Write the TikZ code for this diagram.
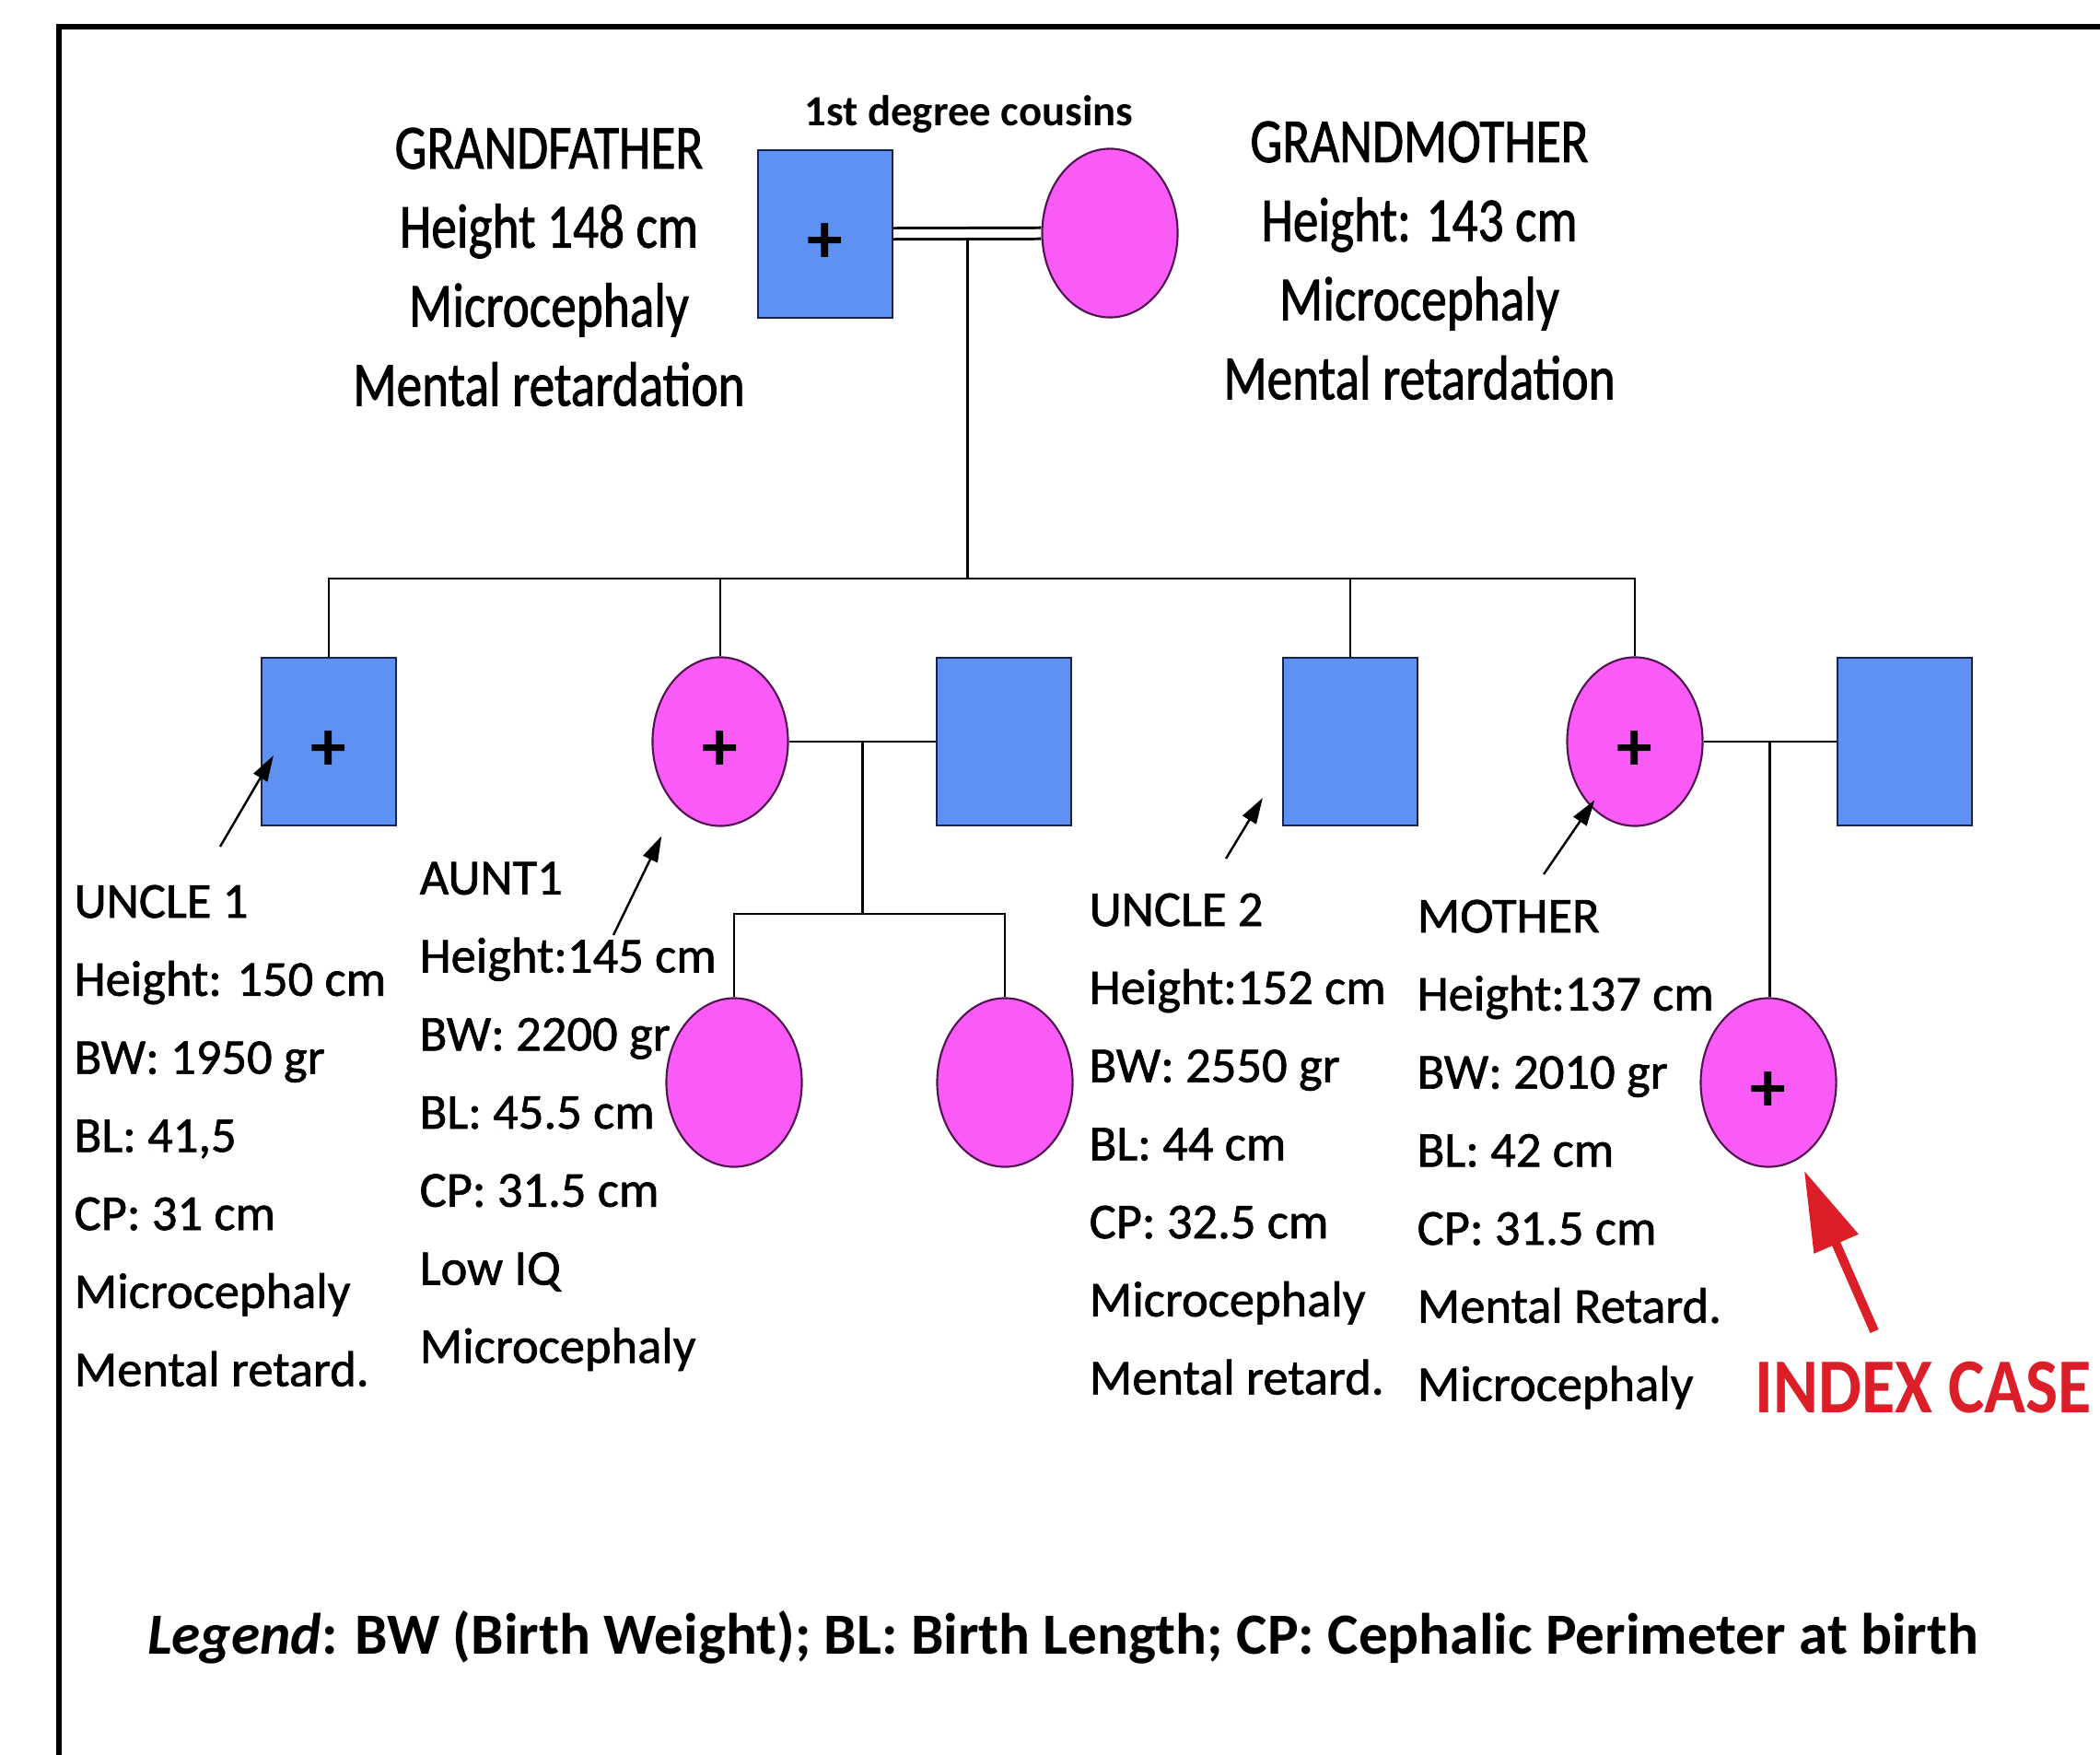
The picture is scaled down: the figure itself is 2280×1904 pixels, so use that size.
\documentclass[tikz,border=0pt]{standalone}
\usepackage{fontspec}
\setmainfont{Carlito}
\newfontfamily\infofont[FakeBold=1.2]{Carlito}
\newfontfamily\tallfont[FakeStretch=0.81, FakeBold=1.2]{Carlito}
\newfontfamily\narrowfont[FakeStretch=0.88]{Carlito}
\usepackage{tikz}
\usetikzlibrary{arrows.meta, positioning, shapes.geometric, calc}
\definecolor{maleblue}{RGB}{94,145,242}
\definecolor{maleedge}{RGB}{25,35,75}
\definecolor{femalepink}{RGB}{250,90,245}
\definecolor{femaleedge}{RGB}{80,20,80}
\definecolor{indexred}{RGB}{220,30,40}
\newcommand{\affected}{\raisebox{-3pt}[\height][\depth]{+}}

\begin{document}
\begin{tikzpicture}[
    x=0.01cm, y=-0.01cm,
    male/.style={rectangle, draw=maleedge, line width=0.6pt, fill=maleblue, inner sep=0pt,
        minimum width=1.46cm, minimum height=1.82cm, font=\fontsize{22}{22}\selectfont\bfseries},
    female/.style={ellipse, draw=femaleedge, line width=0.6pt, fill=femalepink, inner sep=0pt,
        minimum width=1.47cm, minimum height=1.83cm, font=\fontsize{22}{22}\selectfont\bfseries},
    elder/.style={anchor=north, inner sep=0pt, align=center,
        font=\tallfont\fontsize{19.4}{24.4}\selectfont},
    info/.style={anchor=north west, inner sep=0pt, align=left,
        font=\infofont\fontsize{15.5}{24.1}\selectfont},
    link/.style={line width=0.8pt},
    arrow/.style={-{Triangle[length=2.8mm,width=1.7mm]}, line width=0.7pt},
    bigarrow/.style={-{Triangle[length=8.7mm,width=5mm]}, line width=2.8pt, draw=indexred, fill=indexred}
]
\clip (0,0) rectangle (2280,1904);
\fill[white] (0,0) rectangle (2280,1904);

% frame
\draw[line width=1.7pt] (64,1950) -- (64,29) -- (2330,29);

% texts
\node[anchor=base, inner sep=0pt, font=\fontsize{13.3}{16}\selectfont\bfseries] (cousins) at (1052,137) {1st degree cousins};
\node[elder] (gftext) at (596,138) {GRANDFATHER\\Height 148 cm\\Microcephaly\\Mental retardation};
\node[elder] (gmtext) at (1541,131) {GRANDMOTHER\\Height: 143 cm\\Microcephaly\\Mental retardation};
\node[info] (u1text) at (80,960) {UNCLE 1\\Height: 150 cm\\BW: 1950 gr\\BL: 41,5\\CP: 31 cm\\Microcephaly\\Mental retard.};
\node[info] (a1text) at (455,935) {AUNT1\\Height:145 cm\\BW: 2200 gr\\BL: 45.5 cm\\CP: 31.5 cm\\Low IQ\\Microcephaly};
\node[info] (u2text) at (1182,969) {UNCLE 2\\Height:152 cm\\BW: 2550 gr\\BL: 44 cm\\CP: 32.5 cm\\Microcephaly\\Mental retard.};
\node[info] (motext) at (1538,976) {MOTHER\\Height:137 cm\\BW: 2010 gr\\BL: 42 cm\\CP: 31.5 cm\\Mental Retard.\\Microcephaly};
\node[anchor=base, inner sep=0pt, text=indexred, font=\narrowfont\fontsize{24}{24}\selectfont\bfseries] (indexlabel) at (2088,1533) {INDEX CASE};
\node[anchor=base, inner sep=0pt, font=\fontsize{18}{20}\selectfont\bfseries] (legend) at (1154,1795) {\textit{Legend}: BW (Birth Weight); BL: Birth Length; CP: Cephalic Perimeter at birth};

% generation I
\node[male] (gf) at (896,254) {\affected};
\node[female] (gm) at (1205,253) {};

% generation II
\node[male] (u1) at (357,805) {\affected};
\node[female] (a1) at (782,805) {\affected};
\node[male] (a1sp) at (1090,805) {};
\node[male] (u2) at (1466,805) {};
\node[female] (mo) at (1775,805) {\affected};
\node[male] (mosp) at (2068,805) {};

% generation III
\node[female] (c1) at (797,1175) {};
\node[female] (c2) at (1091,1175) {};
\node[female] (ix) at (1920,1175) {\affected};

% consanguineous couple and sibship
\draw[line width=0.85pt, double, double distance=2.56pt] (gf) -- (gm);
\coordinate (gpmid) at ($(gf.east)!0.5!(gm.west)$);
\coordinate (sib) at (gpmid |- 0,628);
\draw[link] ([yshift=-1.3pt]gpmid) -- (sib);
\draw[link] (u1.north) |- (sib) -| (mo.north);
\draw[link] (a1.north) -- (a1 |- sib);
\draw[link] (u2.north) -- (u2 |- sib);

% aunt's family
\draw[link] (a1) -- (a1sp);
\coordinate (a1mid) at ($(a1.east)!0.5!(a1sp.west)$);
\coordinate (a1sib) at (a1mid |- 0,992);
\draw[link] (a1mid) -- (a1sib);
\draw[link] (c1.north) |- (a1sib) -| (c2.north);

% mother's family
\draw[link] (mo) -- (mosp);
\coordinate (momid) at ($(mo.east)!0.5!(mosp.west)$);
\draw[link] (momid) -- (momid |- ix.north);

% pointers
\coordinate (u1tail) at (239,919);
\coordinate (a1tail) at (666,1015);
\coordinate (u2tail) at (1331,932);
\coordinate (motail) at (1676,949);
\coordinate (ixtail) at (2035,1445);
\draw[arrow] (u1tail) -- ([shift={(14,15)}]u1.west);
\draw[arrow] (a1tail) -- ([shift={(-11,37)}]a1.south west);
\draw[arrow] (u2tail) -- ([shift={(-21,-31)}]u2.south west);
\draw[arrow] (motail) -- ([shift={(9,-2)}]mo.south west);
\draw[bigarrow] (ixtail) -- ([shift={(-14,30)}]ix.south east);

\end{tikzpicture}
\end{document}
